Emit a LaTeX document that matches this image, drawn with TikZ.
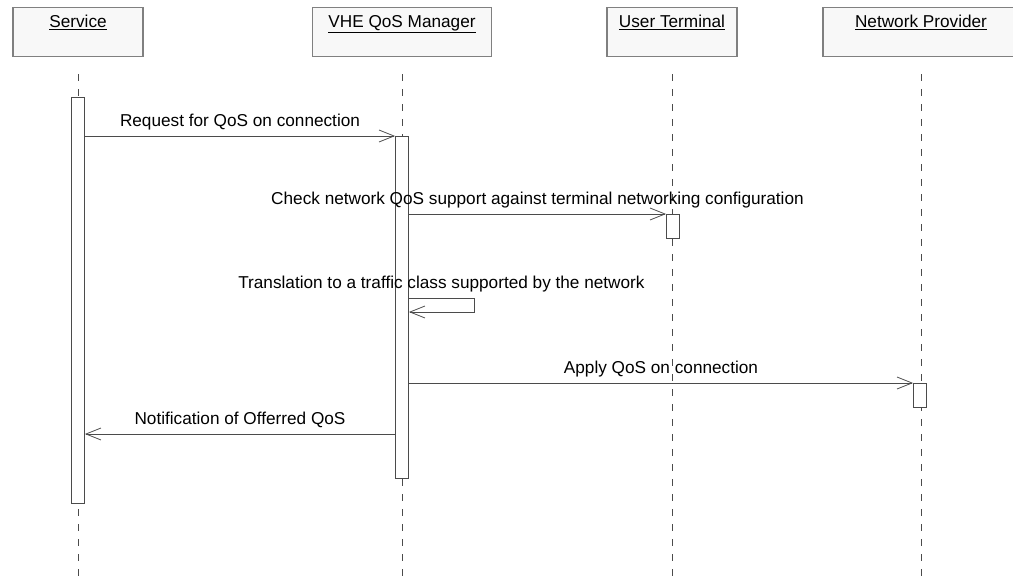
\documentclass[tikz,border=0pt]{standalone}
\usepackage{fontspec}
\setmainfont{Liberation Sans}
\usetikzlibrary{arrows.meta}

\definecolor{lineclr}{RGB}{75,75,75}
\definecolor{boxclr}{RGB}{128,128,128}
\definecolor{boxfill}{RGB}{248,248,248}

\begin{document}
\begin{tikzpicture} [
            x=1pt, y=-1pt,
            font=\fontsize{17.2}{20}\selectfont,
            object/.style = { rectangle, draw=boxclr, line width=1.2pt, fill=boxfill,
                              anchor=north, inner ysep=4pt, text height=16pt,
                              text depth=25pt },
            act/.style    = { rectangle, draw=lineclr, line width=0.8pt, fill=white,
                              anchor=north, inner sep=0pt, minimum width=13pt },
            life/.style   = { draw=lineclr, line width=0.8pt, dash pattern=on 7pt off 8pt },
            line/.style   = { draw=lineclr, line width=0.8pt,
                              -{Straight Barb[length=15pt, width=12pt]} },
            lbl/.style    = { above=6pt, inner sep=0pt, text=black },
          ]
          \useasboundingbox (0,0) rectangle (1013,578);

            \node (srv) [object, minimum width=130pt] at (78,7)  {\underline{Service}};
            \node (vhe) [object, minimum width=179pt] at (402,7) {\underline{VHE QoS Manager}};
            \node (ut)  [object, minimum width=130pt] at (672,7) {\underline{User Terminal}};
            \node (np)  [object, minimum width=196pt] at (921,7) {\underline{Network Provider}};

            \foreach \obj in {srv, vhe, ut, np}
              \draw [life] (\obj.south) ++(0,17) -- ++(0,502);

            \node (srvact) [act, minimum height=406pt] at (78,97)  {};
            \node (vheact) [act, minimum height=342pt] at (402,136) {};
            \node (utact)  [act, minimum height=24pt]  at (673,214) {};
            \node (npact)  [act, minimum height=24pt]  at (920,383) {};

            \coordinate (selfa) at (474,298);
            \coordinate (selfb) at (474,312);
            \coordinate (notif) at (0,434);

            \draw [line] (srvact.east |- vheact.north) -- node [lbl] {Request for QoS on connection} (vheact.north west);
            \draw [line] (vheact.east |- utact.north) -- node [lbl] {Check network QoS support against terminal networking configuration} (utact.north west);
            \draw [line] (vheact.east |- selfa) -- node [lbl] {Translation to a traffic class supported by the network} (selfa) -- (selfb) -- (vheact.east |- selfb);
            \draw [line] (vheact.east |- npact.north) -- node [lbl] {Apply QoS on connection} (npact.north west);
            \draw [line] (vheact.west |- notif) -- node [lbl] {Notification of Offerred QoS} (srvact.east |- notif);
        \end{tikzpicture}
\end{document}
